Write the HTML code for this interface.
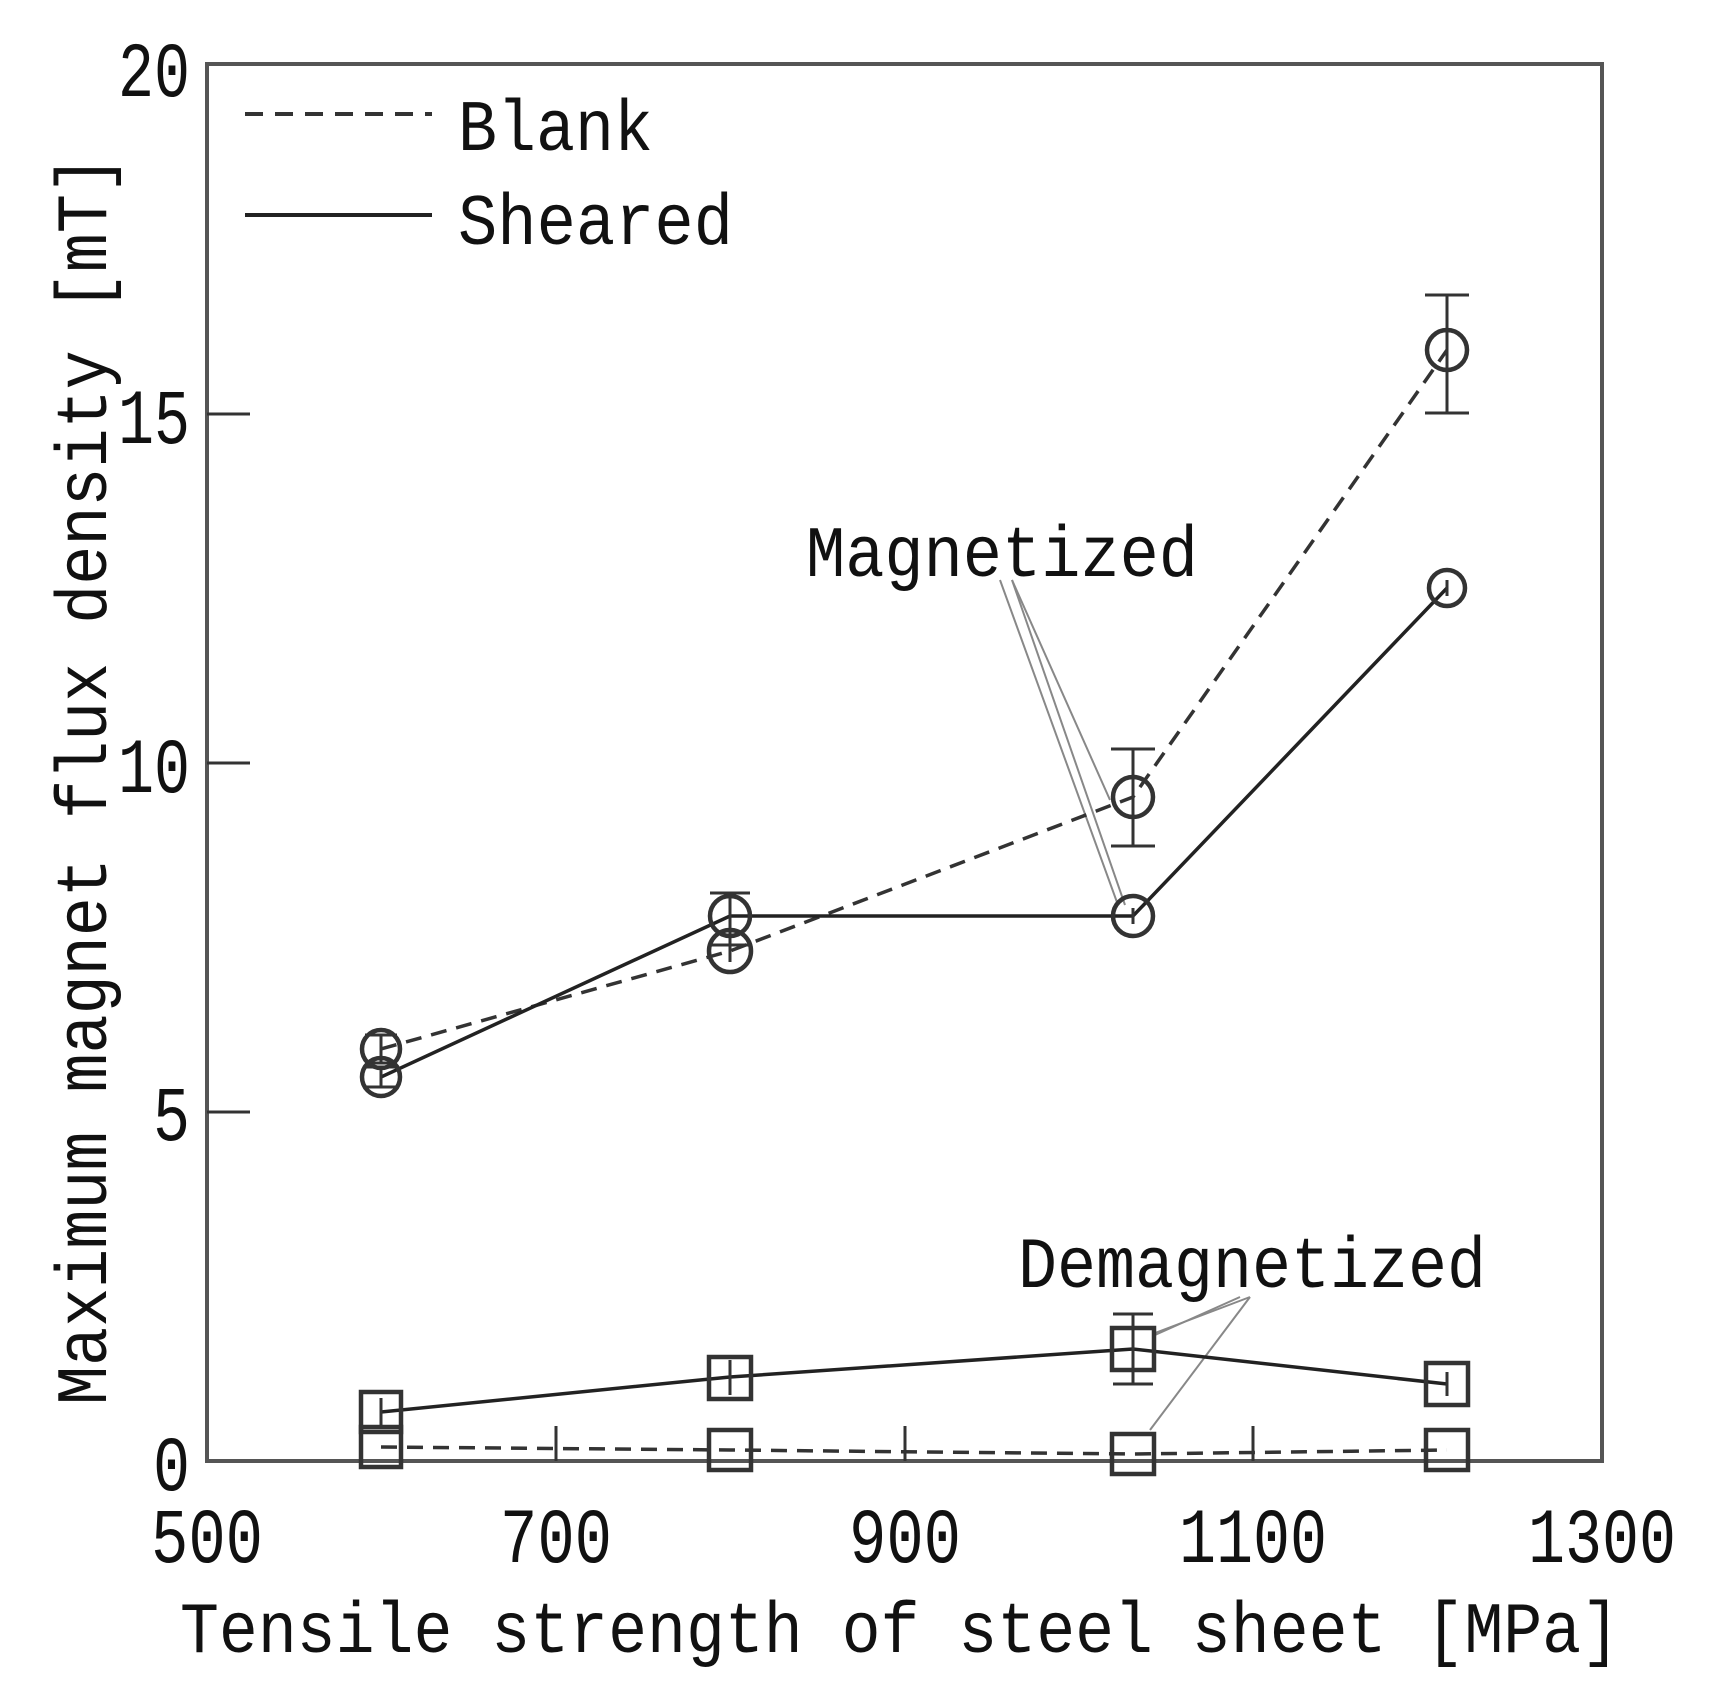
<!DOCTYPE html>
<html><head><meta charset="utf-8"><style>body{margin:0;background:#fff}svg{display:block}</style></head>
<body>
<svg width="1717" height="1699" viewBox="0 0 1717 1699" xmlns="http://www.w3.org/2000/svg" font-family="'Liberation Mono','Noto Sans CJK JP',monospace" fill="none">
<rect x="0" y="0" width="1717" height="1699" fill="#fff"/>
<rect x="207" y="64" width="1395" height="1397" stroke="#555" stroke-width="4"/>
<g stroke="#333" stroke-width="3">
<line x1="207" y1="1112" x2="250" y2="1112"/>
<line x1="207" y1="763" x2="250" y2="763"/>
<line x1="207" y1="414" x2="250" y2="414"/>
<line x1="556" y1="1461" x2="556" y2="1426"/>
<line x1="905" y1="1461" x2="905" y2="1426"/>
<line x1="1253" y1="1461" x2="1253" y2="1426"/>
</g>
<g fill="#111" font-size="78" text-anchor="end">
<text x="190" y="1490" textLength="37" lengthAdjust="spacingAndGlyphs">0</text>
<text x="190" y="1140" textLength="37" lengthAdjust="spacingAndGlyphs">5</text>
<text x="190" y="792" textLength="72" lengthAdjust="spacingAndGlyphs">10</text>
<text x="190" y="443" textLength="72" lengthAdjust="spacingAndGlyphs">15</text>
<text x="190" y="96" textLength="72" lengthAdjust="spacingAndGlyphs">20</text>
</g>
<g fill="#111" font-size="78" text-anchor="middle">
<text x="207" y="1562" textLength="112" lengthAdjust="spacingAndGlyphs">500</text>
<text x="556" y="1562" textLength="112" lengthAdjust="spacingAndGlyphs">700</text>
<text x="905" y="1562" textLength="112" lengthAdjust="spacingAndGlyphs">900</text>
<text x="1253" y="1562" textLength="148" lengthAdjust="spacingAndGlyphs">1100</text>
<text x="1602" y="1562" textLength="148" lengthAdjust="spacingAndGlyphs">1300</text>
</g>
<text x="180" y="1652" fill="#111" font-size="72" textLength="1440" lengthAdjust="spacingAndGlyphs">Tensile strength of steel sheet [MPa]</text>
<text transform="translate(106,1405) rotate(-90)" fill="#111" font-size="72" textLength="1250" lengthAdjust="spacingAndGlyphs">Maximum magnet flux density [mT]</text>
<line x1="245" y1="114" x2="432" y2="114" stroke="#333" stroke-width="4" stroke-dasharray="18,12"/>
<line x1="245" y1="215" x2="432" y2="215" stroke="#222" stroke-width="4"/>
<text x="458" y="150" fill="#111" font-size="72" textLength="195" lengthAdjust="spacingAndGlyphs">Blank</text>
<text x="458" y="244" fill="#111" font-size="72" textLength="275" lengthAdjust="spacingAndGlyphs">Sheared</text>
<text x="806" y="576" fill="#111" font-size="72" textLength="392" lengthAdjust="spacingAndGlyphs">Magnetized</text>
<text x="1018" y="1287" fill="#111" font-size="72" textLength="468" lengthAdjust="spacingAndGlyphs">Demagnetized</text>
<g stroke="#888" stroke-width="2">
<line x1="1012" y1="580" x2="1110" y2="800"/>
<line x1="1012" y1="580" x2="1125" y2="905"/>
<line x1="1000" y1="580" x2="1118" y2="905"/>
<line x1="1250" y1="1297" x2="1155" y2="1333"/>
<line x1="1240" y1="1297" x2="1155" y2="1335"/>
<line x1="1250" y1="1297" x2="1150" y2="1430"/>
</g>
<polyline points="381,1049 730,951 1133,797 1447,350" stroke="#333" stroke-width="3.5" stroke-dasharray="16,10"/>
<polyline points="381,1077 730,916 1133,916 1447,588" stroke="#222" stroke-width="3.5"/>
<polyline points="381,1412 730,1377 1133,1349 1447,1384" stroke="#222" stroke-width="3.5"/>
<polyline points="381,1447 730,1450 1133,1454 1447,1450" stroke="#333" stroke-width="3.5" stroke-dasharray="16,10"/>
<g stroke="#333" stroke-width="3">
<path d="M1133,749V846M1111,749H1155M1111,846H1155"/>
<path d="M1447,295V413M1425,295H1469M1425,413H1469"/>
<path d="M730,893V945M710,893H750M710,945H750"/>
<path d="M1133,1314V1384M1113,1314H1153M1113,1384H1153"/>
<path d="M381,1035V1063M365,1035H397M365,1063H397"/>
<path d="M381,1067V1087M365,1067H397M365,1087H397"/>
<path d="M730,940V962M1447,580V596M1133,908V924M730,1360V1395M381,1398V1426M1447,1372V1396"/>
</g>
<g stroke="#333" stroke-width="4.5" fill="none">
<circle cx="381" cy="1049" r="19"/><circle cx="730" cy="951" r="21"/><circle cx="1133" cy="797" r="20"/><circle cx="1447" cy="350" r="20"/>
<circle cx="381" cy="1077" r="19"/><circle cx="730" cy="916" r="20"/><circle cx="1133" cy="916" r="20"/><circle cx="1447" cy="588" r="18"/>
<rect x="361" y="1392" width="40" height="40"/><rect x="709" y="1357" width="42" height="42"/><rect x="1112" y="1328" width="42" height="42"/><rect x="1426" y="1363" width="42" height="42"/>
<rect x="361" y="1427" width="40" height="40"/><rect x="709" y="1430" width="42" height="40"/><rect x="1112" y="1434" width="42" height="40"/><rect x="1426" y="1430" width="42" height="40"/>
</g>
</svg>
</body></html>
